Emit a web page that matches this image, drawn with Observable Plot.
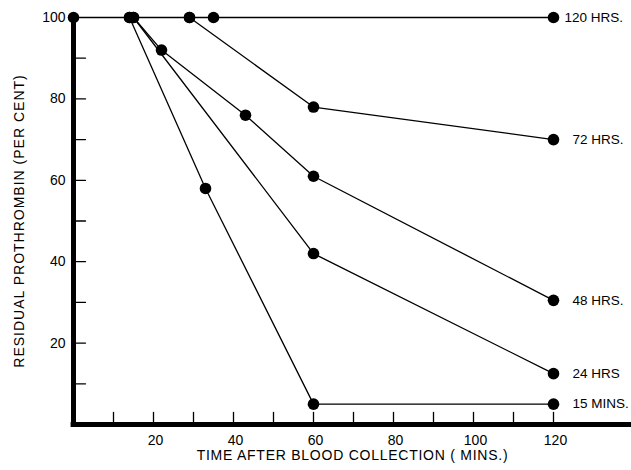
<!DOCTYPE html>
<html><head><meta charset="utf-8">
<script src="https://cdn.jsdelivr.net/npm/d3@7"></script>
<script src="https://cdn.jsdelivr.net/npm/@observablehq/plot@0.6"></script>
<style>body{margin:0;background:#fff}</style>
</head><body><div id="chart"></div>
<script>
const seriesNames = ["120 HRS.", "72 HRS.", "48 HRS.", "24 HRS", "15 MINS."];
const times120h = [0, 14, 29, 35, 120];
const values120h = [100, 100, 100, 100, 100];
const times72h = [29, 60, 120];
const values72h = [100, 78, 70];
const times48h = [15, 22, 43, 60, 120];
const values48h = [100, 92, 76, 61, 30.5];
const times24h = [15, 60, 120];
const values24h = [100, 42, 12.5];
const times15m = [14, 33, 60, 120];
const values15m = [100, 58, 5, 5];
const xTickLabels = [20, 40, 60, 80, 100, 120];
const yTickLabels = [20, 40, 60, 80, 100];
const xMinorTicks = [10, 20, 30, 40, 50, 60, 70, 80, 90, 100, 110, 120];
const yMinorTicks = [10, 20, 30, 40, 50, 60, 70, 80, 90];
const xTitle = "TIME AFTER BLOOD COLLECTION ( MINS.)";
const yTitle = "RESIDUAL PROTHROMBIN (PER CENT)";

const seriesTimes = [times120h, times72h, times48h, times24h, times15m];
const seriesValues = [values120h, values72h, values48h, values24h, values15m];
const rows = [];
seriesNames.forEach((name, i) => {
  seriesTimes[i].forEach((t, j) => rows.push({series: name, time: t, value: seriesValues[i][j]}));
});
const lastPoints = seriesNames.map((name, i) => ({
  series: name,
  time: seriesTimes[i][seriesTimes[i].length - 1],
  value: seriesValues[i][seriesValues[i].length - 1]
}));

const tickShape = {draw(context, l) { context.moveTo(0, 0); context.lineTo(0, -l); }};
const font = "'Liberation Sans', Arial, sans-serif";

const chart = Plot.plot({
  width: 631, height: 470,
  marginLeft: 73, marginRight: 0, marginTop: 17, marginBottom: 46,
  x: {domain: [0, 139.5], axis: null},
  y: {domain: [0, 100], axis: null},
  style: {fontFamily: font, color: "#000", background: "#fff"},
  marks: [
    Plot.ruleX([0], {y1: 0, y2: 99, strokeWidth: 5, stroke: "#000"}),
    Plot.ruleY([0], {x1: -0.6, x2: 139.5, strokeWidth: 5, stroke: "#000"}),
    Plot.vector(yMinorTicks, {x: 0, y: d => d, length: 12, rotate: 90, anchor: "start", shape: tickShape, strokeWidth: 1.3, stroke: "#000"}),
    Plot.vector(xMinorTicks, {x: d => d, y: 0, length: 12, rotate: 0, anchor: "start", shape: tickShape, strokeWidth: 1.3, stroke: "#000"}),
    Plot.line(rows, {x: "time", y: "value", z: "series", stroke: "#000", strokeWidth: 1.3}),
    Plot.dot(rows, {x: "time", y: "value", r: 5.8, fill: "#000", stroke: null}),
    Plot.text(yTickLabels, {x: 0, y: d => d, text: d => String(d), textAnchor: "end", dx: -8, fontSize: 14, fill: "#000"}),
    Plot.text(xTickLabels, {x: d => d, y: 0, text: d => String(d), dy: 16, dx: 2, fontSize: 14, fill: "#000"}),
    Plot.text(lastPoints.slice(0, 1), {x: "time", y: "value", text: "series", textAnchor: "start", dx: 11, fontSize: 13.5, fill: "#000"}),
    Plot.text(lastPoints.slice(1), {x: "time", y: "value", text: "series", textAnchor: "start", dx: 19, fontSize: 13.5, fill: "#000"}),
    Plot.text([xTitle], {frameAnchor: "bottom", textAnchor: "middle", dy: 35, fontSize: 14, fill: "#000"}),
    Plot.text([yTitle], {frameAnchor: "left", textAnchor: "middle", rotate: -90, dx: -54, fontSize: 14, fill: "#000"})
  ]
});
d3.select(chart).selectAll("text").filter(function() { return this.textContent === xTitle; }).style("letter-spacing", "0.75px");
d3.select(chart).selectAll("text").filter(function() { return this.textContent === yTitle; }).style("letter-spacing", "1px");
document.getElementById("chart").appendChild(chart);
</script>
</body></html>
